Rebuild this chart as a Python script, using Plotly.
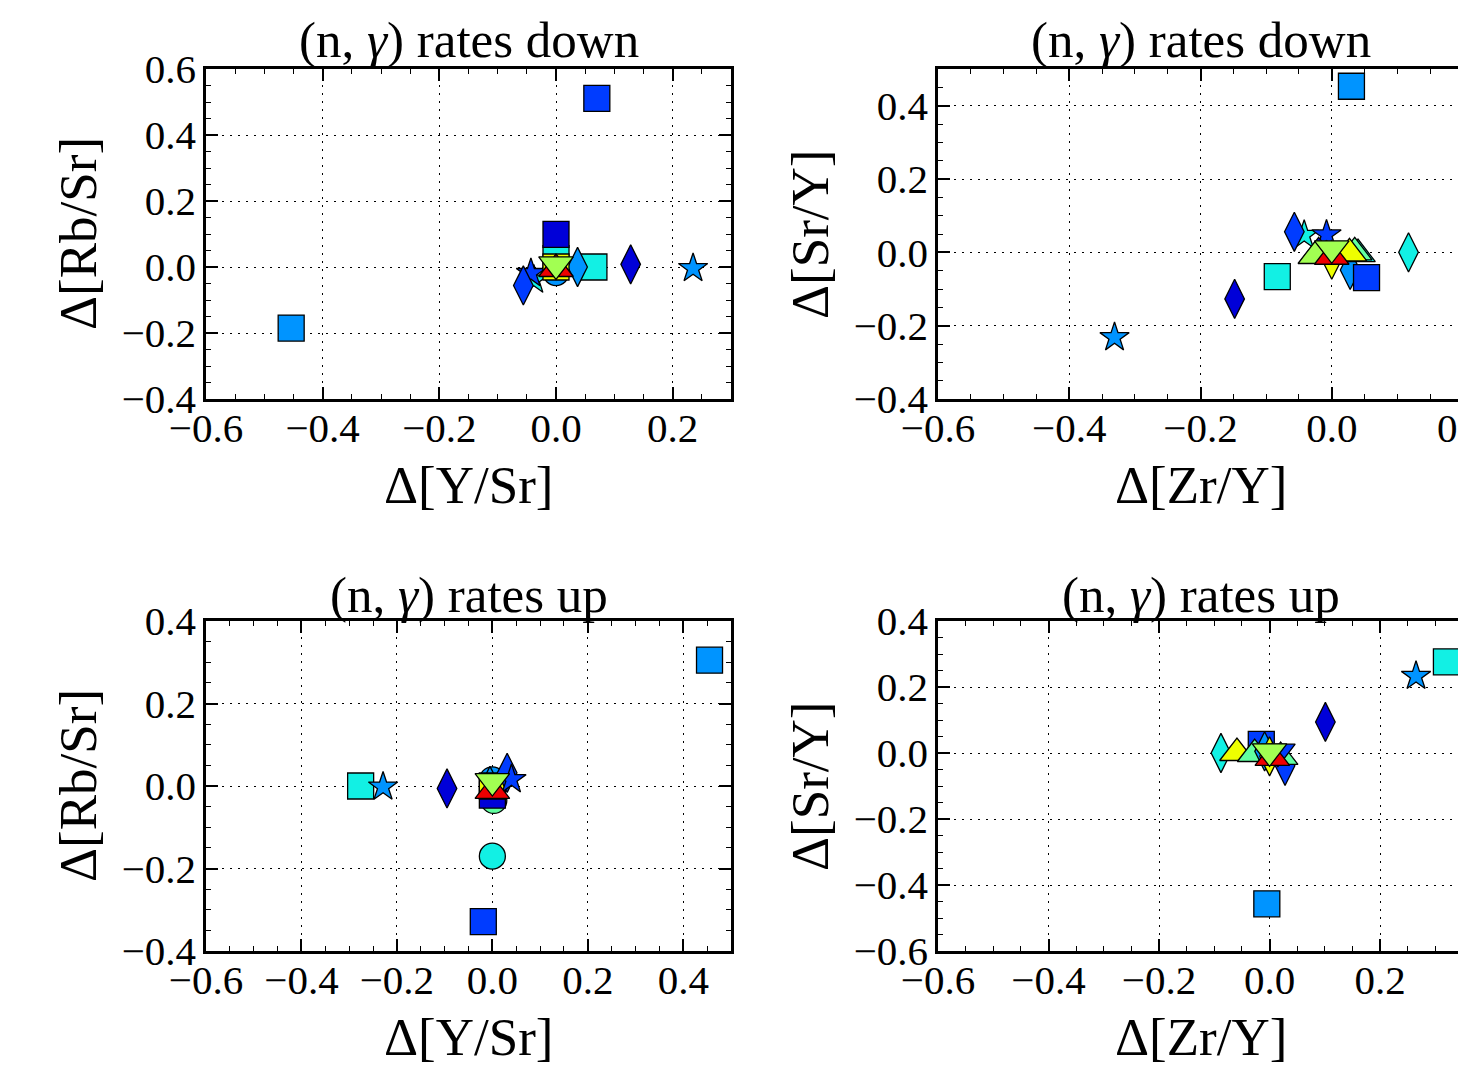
import plotly.graph_objects as go

# ---- marker kinds: symbol and fill colour -----------------------------------
COLORS = {
    "darkblue": "#0000d8",
    "blue": "#003cff",
    "lightblue": "#0094ff",
    "cyan": "#12f0e4",
    "aqua": "#62ffa0",
    "lime": "#a2ff52",
    "yellow": "#eeff00",
    "red": "#ee0000",
}
SYMBOLS = {
    "sq": ("square", 26),
    "ci": ("circle", 26),
    "di": ("diamond-tall", 28),
    "st": ("star", 22),
    "tu": ("triangle-up", 30),
    "td": ("triangle-down", 30),
}

# ---- (n,gamma) rates down : D[Rb/Sr] vs D[Y/Sr] ------------------------------
down_ysr = [-0.454, 0.070, 0.000, 0.000, 0.000, 0.065, 0.037, 0.128, -0.038,
            -0.043, -0.056, 0.235, 0.000, 0.000, 0.000]
down_rbsr = [-0.185, 0.511, -0.017, 0.025, 0.099, 0.000, 0.000, 0.008, -0.039,
             -0.019, -0.056, -0.004, 0.000, -0.006, 0.008]
down_rbsr_kind = ["sq-lightblue", "sq-blue", "ci-lightblue", "sq-cyan", "sq-darkblue",
                  "sq-cyan", "di-lightblue", "di-darkblue", "st-cyan", "st-blue",
                  "di-blue", "st-lightblue", "sq-yellow", "tu-red", "td-lime"]

# ---- (n,gamma) rates down : D[Sr/Y] vs D[Zr/Y] -------------------------------
down_zry = [0.030, -0.083, -0.148, -0.331, 0.117, -0.042, -0.057, -0.008, 0.028,
            0.053, 0.000, -0.020, -0.025, 0.040, 0.035, 0.027, 0.000, 0.000]
down_sry = [0.453, -0.066, -0.127, -0.232, 0.000, 0.047, 0.056, 0.048, -0.048,
            -0.069, -0.020, 0.000, -0.010, -0.005, 0.000, -0.003, -0.012, 0.011]
down_sry_kind = ["sq-lightblue", "sq-cyan", "di-darkblue", "st-lightblue", "di-cyan",
                 "st-cyan", "di-blue", "st-blue", "di-lightblue", "sq-blue",
                 "di-yellow", "tu-darkblue", "tu-lime", "tu-cyan", "tu-aqua",
                 "tu-yellow", "tu-red", "td-lime"]

# ---- (n,gamma) rates up : D[Rb/Sr] vs D[Y/Sr] --------------------------------
up_ysr = [0.455, -0.276, -0.229, -0.095, 0.000, -0.019, 0.003, 0.000, -0.005,
          0.000, 0.000, 0.031, 0.040, 0.000, 0.000]
up_rbsr = [0.305, 0.000, -0.002, -0.006, -0.170, -0.329, -0.035, 0.015, 0.000,
           -0.022, 0.000, 0.032, 0.016, -0.012, 0.012]
up_rbsr_kind = ["sq-lightblue", "sq-cyan", "st-lightblue", "di-darkblue", "ci-cyan",
                "sq-blue", "ci-aqua", "ci-lightblue", "di-lightblue", "sq-darkblue",
                "sq-yellow", "di-blue", "st-blue", "tu-red", "td-lime"]

# ---- (n,gamma) rates up : D[Sr/Y] vs D[Zr/Y] ---------------------------------
up_zry = [0.320, 0.265, 0.101, -0.005, -0.088, -0.059, -0.015, -0.027, -0.009,
          0.028, 0.000, 0.020, 0.015, 0.005, 0.000]
up_sry = [0.276, 0.233, 0.094, -0.457, 0.000, 0.000, 0.026, -0.003, 0.005,
          -0.039, -0.010, -0.012, 0.004, -0.015, 0.005]
up_sry_kind = ["sq-cyan", "st-lightblue", "di-darkblue", "sq-lightblue", "di-cyan",
               "tu-yellow", "sq-blue", "tu-aqua", "di-lightblue", "di-blue",
               "di-yellow", "tu-aqua", "td-blue", "tu-red", "td-lime"]

W, H = 1458, 1079
FONT = "Liberation Serif"
TICK_SIZE = 41
TITLE_SIZE = 51
LABEL_SIZE = 53


def px_x(p):
    return p / W


def px_y(p):
    return 1 - p / H


def marker_for(kinds):
    sym, size, col = [], [], []
    for k in kinds:
        shape, colour = k.split("-")
        s, sz = SYMBOLS[shape]
        sym.append(s)
        size.append(sz)
        col.append(COLORS[colour])
    return dict(symbol=sym, size=size, color=col, opacity=1,
                line=dict(color="black", width=1.3))


fig = go.Figure()

panels = [
    (down_ysr, down_rbsr, down_rbsr_kind, "x", "y"),
    (down_zry, down_sry, down_sry_kind, "x2", "y2"),
    (up_ysr, up_rbsr, up_rbsr_kind, "x3", "y3"),
    (up_zry, up_sry, up_sry_kind, "x4", "y4"),
]
for xs, ys, kinds, xa, ya in panels:
    fig.add_trace(go.Scatter(x=xs, y=ys, mode="markers", xaxis=xa, yaxis=ya,
                             marker=marker_for(kinds), cliponaxis=True,
                             showlegend=False, hoverinfo="x+y"))

# panel frames in pixels: left, right, top, bottom
LEFT = (206, 731)
RIGHT = (938, 1463)
TOP = (69, 399)
BOTTOM = (621, 951)
VIEW_R = 1458


def axis_common():
    return dict(
        showline=True, linecolor="black", linewidth=2.5,
        ticks="inside", ticklen=12, tickwidth=1.5, tickcolor="black",
        showgrid=True, gridcolor="black", gridwidth=1.3, griddash="2px,6px",
        zeroline=False, tickformat=".1f", dtick=0.2,
        tickfont=dict(family=FONT, size=TICK_SIZE, color="black"),
        minor=dict(ticks="inside", ticklen=5, tickwidth=1.3, tickcolor="black",
                   dtick=0.05, showgrid=False),
    )


def x_axis(cols, rng, anchor):
    l, r = cols
    vis_r = min(r, VIEW_R)
    hi = rng[0] + (rng[1] - rng[0]) * (vis_r - l) / (r - l)
    d = axis_common()
    d.update(domain=[px_x(l), px_x(vis_r)], range=[rng[0], hi],
             anchor=anchor, mirror="ticks", tick0=rng[0], ticklabelstandoff=-9)
    return d


def y_axis(rows, rng, anchor, mirror):
    t, b = rows
    d = axis_common()
    d.update(domain=[px_y(b), px_y(t)], range=list(rng), anchor=anchor,
             mirror="ticks" if mirror else False, ticklabelstandoff=-1)
    return d


fig.update_layout(
    width=W, height=H,
    margin=dict(l=0, r=0, t=0, b=0, autoexpand=False),
    paper_bgcolor="white", plot_bgcolor="white",
    xaxis=x_axis(LEFT, (-0.6, 0.3), "y"),
    yaxis=y_axis(TOP, (-0.4, 0.6), "x", True),
    xaxis2=x_axis(RIGHT, (-0.6, 0.2), "y2"),
    yaxis2=y_axis(TOP, (-0.4, 0.5), "x2", False),
    xaxis3=x_axis(LEFT, (-0.6, 0.5), "y3"),
    yaxis3=y_axis(BOTTOM, (-0.4, 0.4), "x3", True),
    xaxis4=x_axis(RIGHT, (-0.6, 0.35), "y4"),
    yaxis4=y_axis(BOTTOM, (-0.6, 0.4), "x4", False),
)

ann = []


def text(x, y, s, size, angle=0):
    ann.append(dict(x=px_x(x), y=px_y(y), xref="paper", yref="paper", text=s,
                    showarrow=False, textangle=angle, xanchor="center",
                    yanchor="middle",
                    font=dict(family=FONT, size=size, color="black")))


cx_l = (LEFT[0] + LEFT[1]) / 2
cx_r = (RIGHT[0] + RIGHT[1]) / 2
text(cx_l, 40, "(n, <i>γ</i>) rates down", TITLE_SIZE)
text(cx_r, 40, "(n, <i>γ</i>) rates down", TITLE_SIZE)
text(cx_l, 595, "(n, <i>γ</i>) rates up", TITLE_SIZE)
text(cx_r, 595, "(n, <i>γ</i>) rates up", TITLE_SIZE)
text(cx_l, 485, "Δ[Y/Sr]", LABEL_SIZE)
text(cx_r, 485, "Δ[Zr/Y]", LABEL_SIZE)
text(cx_l, 1037, "Δ[Y/Sr]", LABEL_SIZE)
text(cx_r, 1037, "Δ[Zr/Y]", LABEL_SIZE)
text(78, 234, "Δ[Rb/Sr]", LABEL_SIZE, -90)
text(810, 234, "Δ[Sr/Y]", LABEL_SIZE, -90)
text(78, 786, "Δ[Rb/Sr]", LABEL_SIZE, -90)
text(810, 786, "Δ[Sr/Y]", LABEL_SIZE, -90)

# "0.2" tick label of the upper right panel, mostly past the right edge
text(1463, 428, "0.2", TICK_SIZE)

fig.update_layout(annotations=ann)
fig.write_html("out.html")
